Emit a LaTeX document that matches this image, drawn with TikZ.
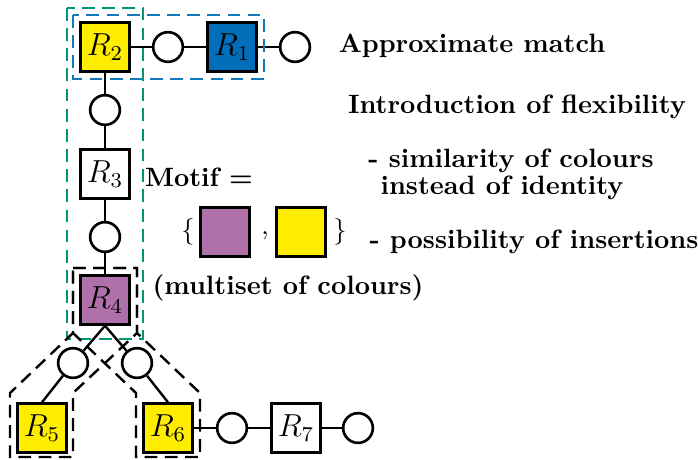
\documentclass[tikz,border=0pt]{standalone}
\usetikzlibrary{positioning}
\definecolor{ryellow}{RGB}{255,237,0}
\definecolor{rblue}{RGB}{0,110,185}
\definecolor{rpurple}{RGB}{176,112,170}
\definecolor{dgreen}{RGB}{0,150,120}
\definecolor{dblue}{RGB}{20,120,190}
\tikzset{
  res/.style={draw, line width=1.1pt, minimum size=18.3pt, inner sep=0pt, font=\large},
  link/.style={draw, circle, line width=1pt, minimum size=11.2pt, inner sep=0pt},
  edge/.style={line width=0.9pt},
  dsh/.style={line width=0.9pt, dash pattern=on 4.8pt off 2.8pt},
  lbl/.style={font=\bfseries, inner sep=0pt},
}
\begin{document}
\begin{tikzpicture}[x=0.377pt, y=-0.377pt]
\useasboundingbox (0,0) rectangle (698,459);
% nodes
\node[res, fill=ryellow] (R2) at (105,47) {$R_2$};
\node[link] (c1) at (168,47) {};
\node[res, fill=rblue] (R1) at (232,47) {$R_1$};
\node[link] (c0) at (295,47) {};
\node[link] (c2) at (105,110) {};
\node[res, fill=white] (R3) at (105,174) {$R_3$};
\node[link] (c3) at (105,237) {};
\node[res, fill=rpurple] (R4) at (105,300) {$R_4$};
\node[link] (cl) at (73,363) {};
\node[link] (cr) at (137,363) {};
\node[res, fill=ryellow] (R5) at (42,428) {$R_5$};
\node[res, fill=ryellow] (R6) at (168,428) {$R_6$};
\node[link] (c6) at (232,428) {};
\node[res, fill=white] (R7) at (296,428) {$R_7$};
\node[link] (c7) at (358,428) {};
% connectors
\draw[edge] (R2) -- (c1);
\draw[edge] (c1) -- (R1);
\draw[edge] (R1) -- (c0);
\draw[edge] (R2) -- (c2);
\draw[edge] (c2) -- (R3);
\draw[edge] (R3) -- (c3);
\draw[edge] (c3) -- (R4);
\draw[edge] (R4.south) -- (cl);
\draw[edge] (R4.south) -- (cr);
\draw[edge] (cl) -- (R5.north);
\draw[edge] (cr) -- (R6.north);
\draw[edge] (R6) -- (c6);
\draw[edge] (c6) -- (R7);
\draw[edge] (R7) -- (c7);
% dashed groupings
\draw[dsh, dblue] (73,15) rectangle (264,79);
\draw[dsh, dgreen] (67,8) rectangle (143,339);
\draw[dsh, black] (73,268) -- (137,268) -- (137,333) -- (73,393) -- (73,457) -- (10,457) -- (10,393) -- (73,333) -- cycle;
\draw[dsh, black] (73,268) -- (137,268) -- (137,333) -- (200,393) -- (200,457) -- (136,457) -- (136,393) -- (73,333) -- cycle;
% texts
\node[lbl] (t1) at (472,46) {Approximate match};
\node[lbl] (t2) at (517,107) {Introduction of flexibility};
\node[lbl] (t3) at (511,161) {- similarity of colours};
\node[lbl] (t4) at (502,188) {instead of identity};
\node[lbl] (t5) at (534,242) {- possibility of insertions};
\node[lbl] (t6) at (199,177) {Motif =};
\node[inner sep=0pt] (lb) at (188,232) {$\{$};
\node[res, fill=rpurple] (m1) at (225,232) {};
\node[inner sep=0pt] (cm) at (265,236) {$,$};
\node[res, fill=ryellow] (m2) at (301,232) {};
\node[inner sep=0pt] (rb) at (340,232) {$\}$};
\node[lbl] (t7) at (288,288) {(multiset of colours)};
\end{tikzpicture}
\end{document}
